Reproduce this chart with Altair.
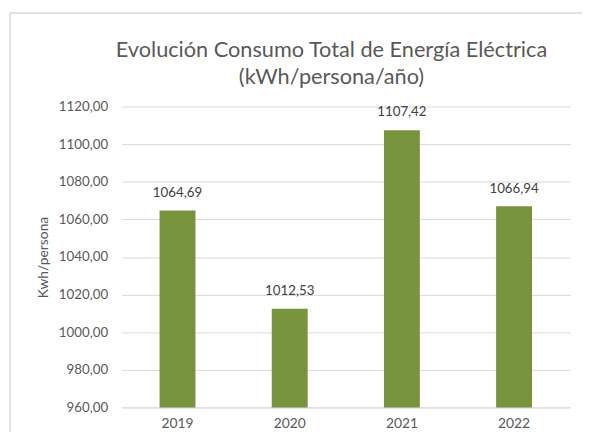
import altair as alt
import pandas as pd

years = ["2019", "2020", "2021", "2022"]
values = [1064.69, 1012.53, 1107.42, 1066.94]
y_ticks = [960, 980, 1000, 1020, 1040, 1060, 1080, 1100, 1120]
title_lines = ["Evolución Consumo Total de Energía Eléctrica", "(kWh/persona/año)"]

df = pd.DataFrame({"year": years, "value": values})
one = pd.DataFrame({"k": [0]})

FONT = "Lato"
GRAY = "#595959"

base = alt.Chart(df).encode(
    x=alt.X("year:N", title=None, sort=years,
            scale=alt.Scale(paddingInner=0.68, paddingOuter=0.34),
            axis=alt.Axis(labelAngle=0, ticks=False, labelPadding=9,
                          domainColor="#D9D9D9", labelFontSize=14,
                          labelColor=GRAY, labelFont=FONT, grid=False)),
    y=alt.Y("value:Q", title="Kwh/persona",
            scale=alt.Scale(domain=[960, 1120], nice=False, zero=False),
            axis=alt.Axis(values=y_ticks, ticks=False, domain=False,
                          labelExpr="replace(format(datum.value, '.2f'), '.', ',')",
                          labelPadding=14, labelFontSize=13.5, labelColor=GRAY,
                          labelFont=FONT, gridColor="#D9D9D9",
                          titleFontSize=14, titleColor=GRAY, titleFont=FONT,
                          titleFontWeight="normal", titlePadding=8)),
)

bars = base.mark_bar(color="#77933C", clip=True)
labels = base.mark_text(baseline="bottom", dy=-11, fontSize=13.5, color="#404040",
                        font=FONT).encode(
    text=alt.Text("label:N")
).transform_calculate(label="replace(format(datum.value, '.2f'), '.', ',')")

# light grey chart-area border (decoration)
border_top = alt.Chart(one).mark_rule(color="#D9D9D9", strokeWidth=1.5).encode(
    x=alt.value(-113), x2=alt.value(467), y=alt.value(-95), y2=alt.value(-95))
border_left = alt.Chart(one).mark_rule(color="#D9D9D9", strokeWidth=1.5).encode(
    x=alt.value(-113), x2=alt.value(-113), y=alt.value(-95), y2=alt.value(330))

# two-line chart title, as text
title1 = alt.Chart(one).mark_text(fontSize=22, font=FONT, color=GRAY,
                                  baseline="alphabetic", align="center").encode(
    x=alt.value(213), y=alt.value(-50), text=alt.value(title_lines[0]))
title2 = alt.Chart(one).mark_text(fontSize=22, font=FONT, color=GRAY,
                                  baseline="alphabetic", align="center").encode(
    x=alt.value(213), y=alt.value(-23), text=alt.value(title_lines[1]))

chart = (border_top + border_left + title1 + title2 + bars + labels).properties(
    width=455, height=305,
    autosize=alt.AutoSizeParams(type="none"),
    padding={"left": 115, "top": 97, "right": 12, "bottom": 22},
).configure_view(stroke=None)

chart.save("out.html", embed_options={"renderer": "svg", "actions": False})
